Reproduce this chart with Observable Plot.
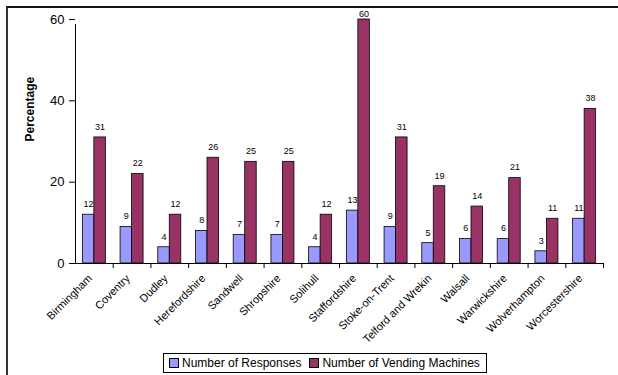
<!DOCTYPE html>
<html>
<head>
<meta charset="utf-8">
<script src="https://cdn.jsdelivr.net/npm/d3@7"></script>
<script src="https://cdn.jsdelivr.net/npm/@observablehq/plot@0.6"></script>
<style>
  body { margin: 0; background: #fff; overflow: hidden; font-family: "Liberation Sans", Arial, sans-serif; }
  #chart { position: relative; width: 618px; height: 375px; }
  #frame { position: absolute; left: 6px; top: 6px; width: 700px; height: 500px;
           border-top: 2px solid #111; border-left: 2px solid #333; pointer-events: none; }
  #plot { position: absolute; left: 0; top: 0; }
  #legend { position: absolute; left: 163px; top: 353px; box-sizing: border-box; height: 20px;
            padding: 0 6px 0 5px; border: 1px solid #000; background: #fff;
            display: flex; align-items: center; font-size: 12px; color: #000; white-space: nowrap; }
  #legend .sw { display: inline-block; width: 8px; height: 8px; border: 1px solid #000; margin-right: 3px; }
  #legend .gap { display: inline-block; width: 8px; }
</style>
</head>
<body>
<div id="chart">
  <div id="plot"></div>
  <div id="frame"></div>
  <div id="legend"></div>
</div>
<script>
// Regions of the West Midlands
const regions = ["Birmingham", "Coventry", "Dudley", "Herefordshire", "Sandwell", "Shropshire",
  "Solihull", "Staffordshire", "Stoke-on-Trent", "Telford and Wrekin", "Walsall",
  "Warwickshire", "Wolverhampton", "Worcestershire"];
// Percentages per region
const responses = [12, 9, 4, 8, 7, 7, 4, 13, 9, 5, 6, 6, 3, 11];
const machines = [31, 22, 12, 26, 25, 25, 12, 60, 31, 19, 14, 21, 11, 38];
const seriesNames = ["Number of Responses", "Number of Vending Machines"];
const seriesColors = ["#9999ff", "#993366"];
const yTicks = [0, 20, 40, 60];

const W = 618, H = 345, mL = 75, mR = 15, mT = 19, mB = 82;
const bw = (W - mL - mR) / regions.length;  // band width
const half = 11.5;                           // width of one bar
const outer = bw / 2 - half;

const resp = regions.map((r, i) => ({region: r, value: responses[i]}));
const mach = regions.map((r, i) => ({region: r, value: machines[i]}));
const atTop = d => d.value >= 58;

const chart = Plot.plot({
  width: W, height: H,
  marginLeft: mL, marginRight: mR, marginTop: mT, marginBottom: mB,
  style: {fontFamily: "'Liberation Sans', Arial, sans-serif", fontSize: "11px", color: "#000", background: "transparent"},
  x: {type: "band", domain: regions, padding: 0, round: false},
  y: {domain: [0, 60]},
  marks: [
    Plot.barY(resp, {x: "region", y: "value", fill: seriesColors[0], stroke: "#000", strokeWidth: 0.8,
      insetLeft: outer, insetRight: bw / 2}),
    Plot.barY(mach, {x: "region", y: "value", fill: seriesColors[1], stroke: "#000", strokeWidth: 0.8,
      insetLeft: bw / 2, insetRight: outer}),
    // value labels (a label that would leave the plot area is kept just inside its top edge)
    Plot.text(resp.filter(d => !atTop(d)), {x: "region", y: "value", text: d => String(d.value), dx: -half / 2, dy: -10.5, fontSize: 9}),
    Plot.text(mach.filter(d => !atTop(d)), {x: "region", y: "value", text: d => String(d.value), dx: half / 2, dy: -10.5, fontSize: 9}),
    Plot.text(mach.filter(atTop), {x: "region", frameAnchor: "top", lineAnchor: "middle", text: d => String(d.value), dx: half / 2, dy: -5, fontSize: 9}),
    // axes
    Plot.ruleY([0], {stroke: "#000"}),
    Plot.ruleX([regions[0]], {x: d => d, y1: 0, y2: 60, dx: -bw / 2, insetBottom: -5, stroke: "#000"}),
    Plot.ruleX(regions, {x: d => d, y1: 0, y2: 0, dx: bw / 2, insetBottom: -5, stroke: "#000"}),
    Plot.axisY({ticks: yTicks, tickSize: 6, tickPadding: 5, fontSize: 13, label: null}),
    Plot.axisX({tickSize: 0, tickRotate: -45, tickPadding: 13, dx: -4, fontSize: 11, label: null}),
    Plot.text(["Percentage"], {frameAnchor: "left", rotate: -90, dx: -45, fontWeight: "bold", fontSize: 12})
  ]
});
document.getElementById("plot").appendChild(chart);

const legend = document.getElementById("legend");
seriesNames.forEach((name, i) => {
  if (i > 0) { const g = document.createElement("span"); g.className = "gap"; legend.appendChild(g); }
  const sw = document.createElement("span");
  sw.className = "sw";
  sw.style.background = seriesColors[i];
  legend.appendChild(sw);
  legend.appendChild(document.createTextNode(name));
});
</script>
</body>
</html>
